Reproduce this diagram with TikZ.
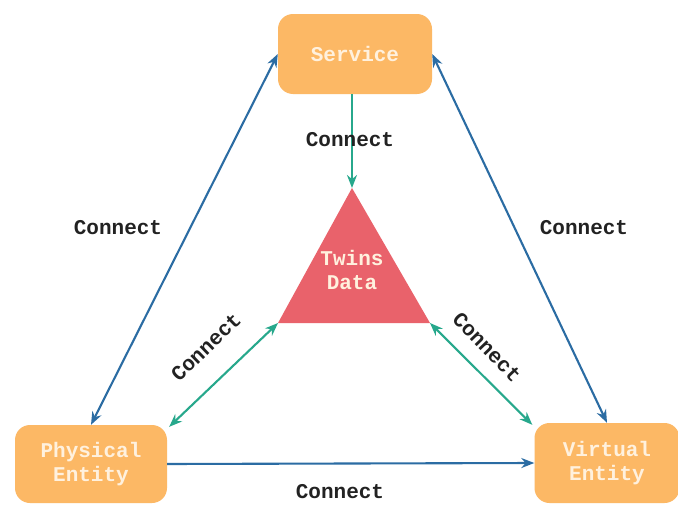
\documentclass[tikz,border=0pt]{standalone}
\usepackage{fontspec}
\setmonofont{Liberation Mono}
\usetikzlibrary{arrows.meta}
\definecolor{boxorange}{HTML}{FCB865}
\definecolor{trired}{HTML}{E9626B}
\definecolor{arrblue}{HTML}{2B6CA3}
\definecolor{arrgreen}{HTML}{27A88C}
\definecolor{boxtext}{HTML}{FFF1DE}
\definecolor{lbltext}{HTML}{222222}
\tikzset{
  >={Stealth[length=13pt,width=10pt]},
  box/.style={fill=boxorange, draw=none, rounded corners=15pt, text=boxtext,
    font=\fontsize{21}{24}\selectfont\ttfamily\bfseries, align=center, inner sep=0pt},
  lbl/.style={text=lbltext, font=\fontsize{21}{24}\selectfont\ttfamily\bfseries, inner sep=0pt},
  bluearr/.style={draw=arrblue, line width=2.1pt},
  greenarr/.style={draw=arrgreen, line width=2.1pt}
}
\begin{document}
\begin{tikzpicture}[x=1pt,y=-1pt]
\useasboundingbox (0,0) rectangle (678,506);
\fill[white] (0,0) rectangle (678,506);
\node[box, minimum width=154pt, minimum height=80pt] (service) at (355,54) {Service};
\node[box, minimum width=152pt, minimum height=78pt] (phys) at (91,464) {Physical\\Entity};
\node[box, minimum width=145pt, minimum height=80pt] (virt) at (607,463) {Virtual\\Entity};
\coordinate (apex) at (352,188);
\coordinate (bl) at (278,323);
\coordinate (br) at (430,323);
\fill[trired] (apex) -- (bl) -- (br) -- cycle;
\node[box, fill=none] (twins) at (352,270) {Twins\\Data};
% arrows
\draw[greenarr, ->] (service.south -| apex) -- (apex);
\draw[bluearr, <->] (phys.north) -- (service.west);
\draw[bluearr, <->] (service.east) -- (virt.north);
\draw[bluearr, ->] (phys.east) -- (virt.west);
\draw[greenarr, <->] (bl) -- ([shift={(2pt,-2pt)}]phys.north east);
\draw[greenarr, <->] (br) -- ([shift={(-2pt,-2pt)}]virt.north west);
% labels
\node[lbl] (l1) at (350,140) {Connect};
\node[lbl] (l2) at (118,228) {Connect};
\node[lbl] (l3) at (584,228) {Connect};
\node[lbl] (l4) at (340,492) {Connect};
\node[lbl, rotate=44] (l5) at (206,347) {Connect};
\node[lbl, rotate=-46] (l6) at (487,347) {Connect};
\end{tikzpicture}
\end{document}
